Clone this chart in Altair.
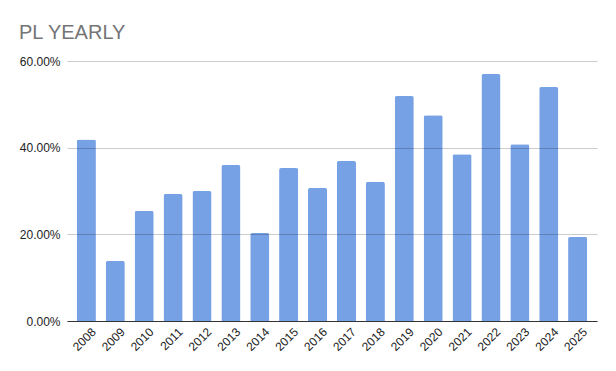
import altair as alt
import pandas as pd

years = ["2008", "2009", "2010", "2011", "2012", "2013", "2014", "2015", "2016",
         "2017", "2018", "2019", "2020", "2021", "2022", "2023", "2024", "2025"]
values = [0.419, 0.1385, 0.254, 0.293, 0.300, 0.360, 0.203, 0.353, 0.307,
          0.369, 0.321, 0.519, 0.475, 0.385, 0.570, 0.408, 0.540, 0.194]
y_ticks = [0, 0.2, 0.4, 0.6]

df = pd.DataFrame({"year": years, "value": values})

chart = alt.Chart(df).mark_bar(
    color="#77A1E5", cornerRadiusTopLeft=2, cornerRadiusTopRight=2
).encode(
    x=alt.X("year:N", sort=years, title=None,
            scale=alt.Scale(paddingInner=0.34, paddingOuter=0.34),
            axis=alt.Axis(labelAngle=-45, ticks=False, domainColor="#333333",
                          domainWidth=1, labelFont="Liberation Sans", labelFontSize=12,
                          labelColor="#222222", labelPadding=5, labelOffset=4, zindex=1)),
    y=alt.Y("value:Q", title=None,
            scale=alt.Scale(domain=[0, 0.6], nice=False),
            axis=alt.Axis(values=y_ticks, format=".2%", domain=False, ticks=False,
                          labelFont="Liberation Sans", labelFontSize=12,
                          labelColor="#222222", labelPadding=7,
                          gridColor="#000000", gridOpacity=0.2, zindex=1)),
).properties(
    width=530, height=260,
    autosize="none",
    padding={"left": 59, "top": 53, "right": 11, "bottom": 50},
    title=alt.TitleParams("PL YEARLY", anchor="start", frame="group", dx=-48,
                          offset=12, font="Liberation Sans", fontSize=20,
                          fontWeight="normal", color="#757575"),
).configure_view(stroke=None)

chart.save("out.html", embed_options={"renderer": "svg", "actions": False})
